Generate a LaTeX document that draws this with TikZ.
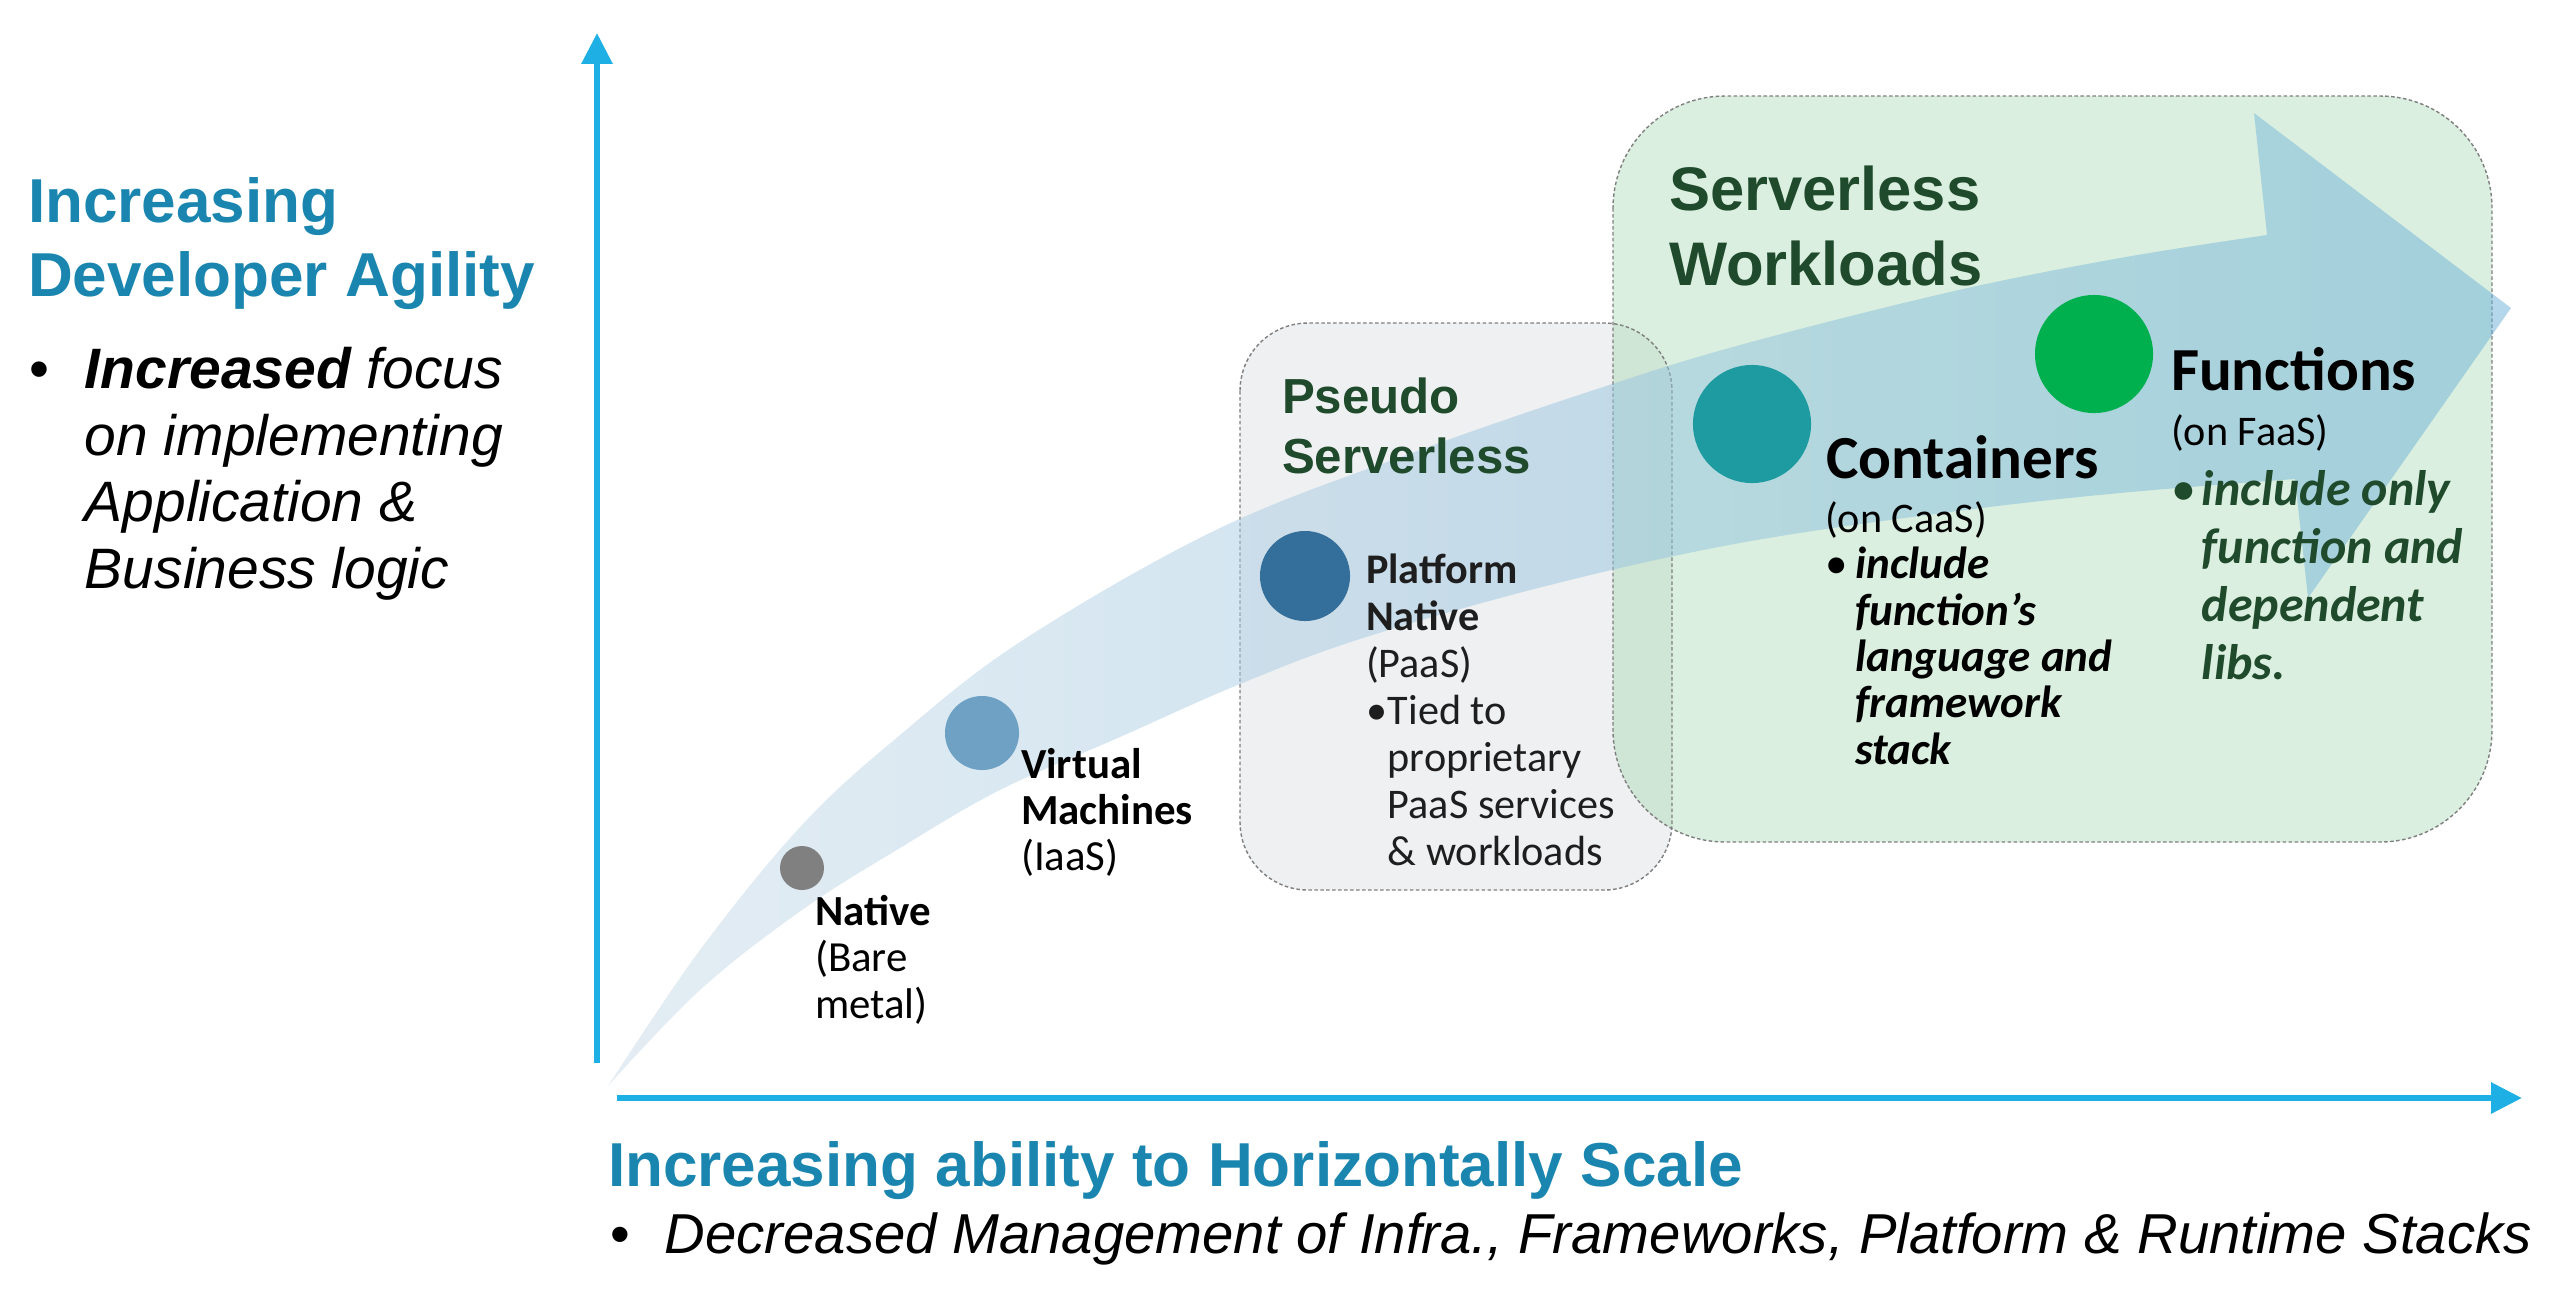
\documentclass[tikz,border=0pt]{standalone}
\usepackage{fontspec}
\setmainfont{Liberation Sans}
\newfontfamily\calib{Carlito}
\usetikzlibrary{arrows.meta}
\definecolor{headblue}{HTML}{1A86B0}
\definecolor{axisblue}{HTML}{1EAFE5}
\definecolor{dkgreen}{HTML}{1F4A2C}
\definecolor{pseudofill}{HTML}{EFF0F2}
\definecolor{greenfill}{HTML}{8FCF9F}
\definecolor{bandA}{HTML}{C9DBE8}
\definecolor{bandB}{HTML}{6BB0D8}
\definecolor{dotgray}{HTML}{808080}
\definecolor{dotvm}{HTML}{6FA1C4}
\definecolor{dotpaas}{HTML}{346F9B}
\definecolor{dotcaas}{HTML}{1E9BA0}
\definecolor{dotfaas}{HTML}{00B04F}
\definecolor{boxline}{HTML}{7F7F7F}
\definecolor{textdark}{HTML}{1E1E1E}
\newcommand\ts{\rule{0pt}{14pt}}
\begin{document}
\begin{tikzpicture}[x=0.01cm, y=-0.01cm,
  axis/.style={draw=axisblue, line width=1.8pt, -{Triangle[length=8.8pt,width=8.5pt]}},
  txt/.style={anchor=north west, inner sep=0pt, outer sep=0pt, align=left},
  dot/.style={circle, inner sep=0pt, draw=none},
  grpline/.style={draw=boxline, line width=0.4pt, dash pattern=on 1pt off 0.7pt},
]
\useasboundingbox (0,0) rectangle (2560,1296);

% group boxes
\fill[pseudofill, rounded corners=0.68cm] (1240,323) rectangle (1672,890);
\fill[greenfill, fill opacity=0.33, rounded corners=1.12cm] (1613,96) rectangle (2492,842);
\draw[grpline, rounded corners=0.68cm] (1240,323) rectangle (1672,890);
\draw[grpline, rounded corners=1.12cm] (1613,96) rectangle (2492,842);

% big curved arrow
\path[left color=bandA, right color=bandB, fill opacity=0.5]
  plot[smooth, tension=0.6] coordinates {(608,1086) (700,950) (802,825) (900,735) (1023,640) (1220,528) (1420,450) (1600,388) (1740,345) (1950,292) (2120,258) (2267,235)}
  -- (2254,113) -- (2511,308) -- (2308,598) -- (2295,479)
  -- plot[smooth, tension=0.6] coordinates {(2295,479) (2120,493) (1950,512) (1740,543) (1550,585) (1363,638) (1240,684) (1120,737) (1000,790) (900,848) (802,910) (700,990) (608,1086)}
  -- cycle;

% axes
\coordinate (ybot) at (597,1063);
\coordinate (ytop) at (597,33);
\coordinate (xleft) at (617,1098);
\coordinate (xright) at (2522,1098);
\draw[axis] (ybot) -- (ytop);
\draw[axis] (xleft) -- (xright);

% dots
\node[dot, fill=dotgray, minimum size=0.44cm] (native) at (802,868) {};
\node[dot, fill=dotvm, minimum size=0.74cm] (vm) at (982,733) {};
\node[dot, fill=dotpaas, minimum size=0.90cm] (paas) at (1305,576) {};
\node[dot, fill=dotcaas, minimum size=1.18cm] (caas) at (1752,424) {};
\node[dot, fill=dotfaas, minimum size=1.18cm] (faas) at (2094,354) {};

% left texts
\node[txt, text=headblue, font=\fontsize{17.65}{21}\selectfont\bfseries] (agility) at (28,173)
  {\ts Increasing\\Developer Agility};
\node[txt, font=\fontsize{16.2}{19}\selectfont\itshape] (focus) at (30,339)
  {\ts\makebox[15.6pt][l]{\upshape\textbullet}\textbf{Increased} focus\\
   \hspace*{15.6pt}on implementing\\
   \hspace*{15.6pt}Application \&\\
   \hspace*{15.6pt}Business logic};

% bottom texts
\node[txt, text=headblue, font=\fontsize{17.65}{21}\selectfont\bfseries] (scale) at (608,1137)
  {\ts Increasing ability to Horizontally Scale};
\node[txt, font=\fontsize{16}{19}\selectfont\itshape] (mgmt) at (610,1204)
  {\ts\makebox[15.6pt][l]{\upshape\textbullet}Decreased Management of Infra., Frameworks, Platform \& Runtime Stacks};

% group titles
\node[txt, text=dkgreen, font=\fontsize{14}{17.07}\selectfont\bfseries] (pstitle) at (1282,364)
  {\ts Pseudo\\Serverless};
\node[txt, text=dkgreen, font=\fontsize{17.5}{21.3}\selectfont\bfseries] (swtitle) at (1669,161)
  {\ts Serverless\\Workloads};

% labels
\node[txt, font=\calib\fontsize{12.2}{13.2}\selectfont] (nativelbl) at (815,876)
  {\ts\textbf{Native}\\(Bare\\metal)};
\node[txt, font=\calib\fontsize{12.2}{13.1}\selectfont] (vmlbl) at (1021,729)
  {\ts\textbf{Virtual}\\\textbf{Machines}\\(IaaS)};
\node[txt, text=textdark, font=\calib\fontsize{12}{13.4}\selectfont] (paaslbl) at (1366,534)
  {\ts\textbf{Platform}\\\textbf{Native}\\(PaaS)\\
   \makebox[6.2pt][l]{\textbullet}Tied to\\
   \hspace*{6.2pt}proprietary\\
   \hspace*{6.2pt}PaaS services\\
   \hspace*{6.2pt}\& workloads};

\node[txt, font=\calib\fontsize{17.4}{21}\selectfont\bfseries] (contitle) at (1826,429)
  {\ts Containers};
\node[txt, font=\calib\fontsize{12.8}{13.2}\selectfont\bfseries\itshape] (conbody) at (1825,483)
  {\ts{\fontsize{12}{13.2}\selectfont\mdseries\upshape(on CaaS)}\\
   \makebox[8.6pt][l]{\mdseries\upshape\textbullet}include\\
   \hspace*{8.6pt}function’s\\
   \hspace*{8.6pt}language and\\
   \hspace*{8.6pt}framework\\
   \hspace*{8.6pt}stack};

\node[txt, font=\calib\fontsize{17.4}{21}\selectfont\bfseries] (funtitle) at (2171,341)
  {\ts Functions};
\node[txt, text=dkgreen, font=\calib\fontsize{14.2}{16.5}\selectfont\bfseries\itshape] (funbody) at (2171,396)
  {\ts{\fontsize{12}{13.2}\selectfont\mdseries\upshape\color{black}(on FaaS)}\\[0.5pt]
   \makebox[8.8pt][l]{\mdseries\upshape\textbullet}include only\\
   \hspace*{8.8pt}function and\\
   \hspace*{8.8pt}dependent\\
   \hspace*{8.8pt}libs.};
\end{tikzpicture}
\end{document}
